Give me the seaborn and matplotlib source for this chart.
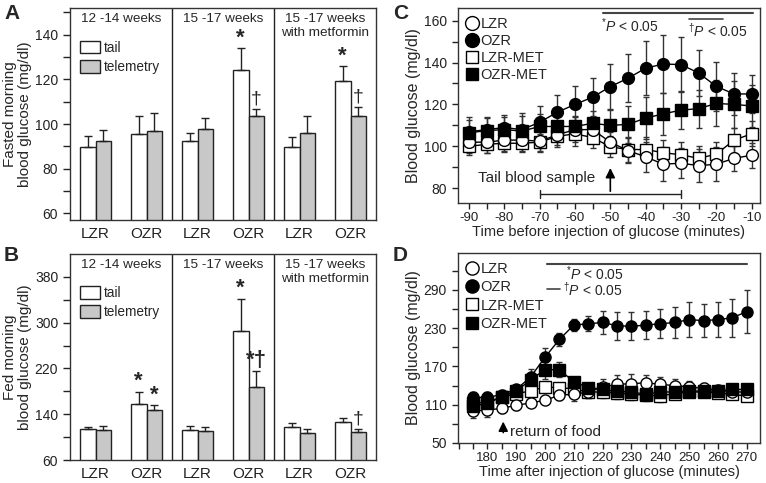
import numpy as np
import pandas as pd
import seaborn as sns
import matplotlib
matplotlib.use("Agg")
import matplotlib.pyplot as plt
from matplotlib.lines import Line2D
from matplotlib.ticker import MultipleLocator
import matplotlib.transforms as mtransforms

# ---- data: panels A / B (bars) ----
groups = ["LZR", "OZR", "LZR", "OZR", "LZR", "OZR"]
sections = ["12 -14 weeks", "15 -17 weeks", "15 -17 weeks\nwith metformin"]

fasted_tail = [89.9, 95.6, 92.6, 124.3, 89.6, 119.1]
fasted_tail_err = [4.8, 8.0, 3.6, 9.6, 4.5, 6.7]
fasted_tel = [92.3, 97.1, 98.0, 103.6, 95.9, 103.4]
fasted_tel_err = [5.1, 8.0, 4.9, 3.0, 7.6, 4.2]

fed_tail = [113.5, 157.7, 113.0, 285.0, 117.0, 127.0]
fed_tail_err = [4.5, 21.5, 6.0, 57.0, 7.0, 5.7]
fed_tel = [112.0, 147.0, 111.0, 187.0, 107.7, 109.0]
fed_tel_err = [7.0, 8.4, 6.0, 28.0, 6.3, 4.5]

# ---- data: panel C ----
time_c = list(range(-90, -5, 5))
c_lzr = [102, 102, 103, 103, 102.5, 105.5, 108, 108, 102, 98, 95, 91.5, 92, 90.8, 91.5, 94.3, 95.8]
c_lzr_err = [5, 5, 5, 5, 5, 5, 6, 6, 5, 6, 7, 8, 7, 8, 8, 6, 6]
c_ozr = [107, 108, 109, 108, 111.5, 116.3, 120, 123.5, 128.5, 132.5, 137.3, 139.3, 139, 135, 128.6, 125, 125]
c_ozr_err = [7, 6, 6, 8, 8, 8, 9, 9, 11, 11.5, 13, 14, 13, 11, 11.5, 10, 9]
c_lzr_met = [100, 101, 101.5, 101.5, 102, 104.8, 106, 104.2, 99.8, 98.5, 98.5, 97, 96, 94.3, 96.3, 103, 106]
c_lzr_met_err = [4, 4, 4, 4, 4, 5, 6, 5, 5, 6, 6, 6, 6, 6, 6, 6, 6]
c_ozr_met = [106.5, 107.5, 108, 107.3, 109.5, 109.5, 109.5, 111, 110, 110.5, 113.5, 115.5, 117.3, 118, 120.5, 120, 119.3]
c_ozr_met_err = [6, 6, 6, 7, 6, 6, 5, 6, 8, 9, 10, 10, 9, 9, 11, 11, 10]

# ---- data: panel D ----
time_d = list(range(175, 275, 5))
d_lzr = [100.5, 101.5, 104.5, 109, 113, 117, 125, 126.5, 130, 138, 142, 143, 144.5, 142, 140, 138, 135.5, 133, 130, 130]
d_lzr_err = [12, 10, 8, 8, 7, 6, 8, 10, 10, 12, 15, 15, 12, 12, 11, 10, 9, 8, 8, 8]
d_ozr = [121.5, 121.5, 126, 134, 153.5, 184.5, 212.5, 235, 237, 239, 234, 233, 235, 237, 239, 243.5, 242, 243.5, 246.5, 256]
d_ozr_err = [8, 8, 7, 7, 12, 15, 10, 10, 12, 18, 22, 22, 22, 23, 24, 27, 26, 28, 30, 34]
d_lzr_met = [112, 114.5, 122, 127.5, 131.5, 138, 136.5, 135, 130, 130, 128.5, 126.5, 125, 124, 127.5, 130, 130, 128.5, 126.5, 123.5]
d_lzr_met_err = [9, 9, 8, 8, 8, 8, 8, 9, 9, 9, 9, 9, 9, 9, 8, 8, 8, 8, 8, 8]
d_ozr_met = [108, 112, 122.5, 131.5, 149, 165, 165, 146, 137, 134, 131, 130, 126.5, 130, 130, 131.5, 131.5, 131.5, 134, 134]
d_ozr_met_err = [8, 8, 7, 7, 10, 14, 12, 8, 7, 7, 7, 6, 6, 6, 6, 6, 6, 6, 6, 6]

sns.set_style("ticks")
plt.rcParams['font.family'] = ['Liberation Sans', 'DejaVu Sans']
plt.rcParams['mathtext.fontset'] = 'custom'
plt.rcParams['mathtext.rm'] = 'Liberation Sans'
plt.rcParams['mathtext.it'] = 'Liberation Sans:italic'
plt.rcParams['axes.unicode_minus'] = False
plt.rcParams['axes.edgecolor'] = '#333333'
plt.rcParams['axes.linewidth'] = 1.0
plt.rcParams['xtick.color'] = '#222222'
plt.rcParams['ytick.color'] = '#222222'

INK = '#222222'
GRAY = '#c8c8c8'

fig = plt.figure(figsize=(7.66, 4.83), dpi=100)
W, H = 766, 483


def rect(x0, y0, x1, y1):
    return [x0 / W, 1 - y1 / H, (x1 - x0) / W, (y1 - y0) / H]


def bar_panel(ax, tail, tail_err, tel, tel_err, ylim, major, minor, ylabel, marks):
    keys = [f"{g}{i}" for i, g in enumerate(groups)]
    df = pd.DataFrame({
        "grp": keys * 2,
        "sample": ["tail"] * 6 + ["telemetry"] * 6,
        "value": tail + tel,
    })
    sns.barplot(data=df, x="grp", y="value", hue="sample", order=keys,
                palette={"tail": "white", "telemetry": GRAY},
                edgecolor=INK, linewidth=1, width=0.61, errorbar=None, ax=ax)
    tops = []
    for cont, errs in zip(ax.containers, [tail_err, tel_err]):
        xs = [b.get_x() + b.get_width() / 2 for b in cont]
        ys = [b.get_height() for b in cont]
        ax.errorbar(xs, ys, yerr=[np.zeros(len(errs)), errs], fmt='none',
                    ecolor=INK, elinewidth=1, capsize=3, capthick=1, zorder=3)
        tops.append([(x, y + e) for x, y, e in zip(xs, ys, errs)])
    for (series, idx), sym in marks.items():
        x, y = tops[series][idx]
        star = sym.startswith('*')
        ax.annotate(sym, (x, y), xytext=(0, 0 if star else 1), textcoords='offset points',
                    ha='center', va='bottom', fontsize=16 if star else 14,
                    fontweight='bold' if star else 'normal')
    ax.set_ylim(*ylim)
    ax.set_xlim(-0.5, 5.5)
    ax.set_yticks(major)
    ax.set_yticks(minor, minor=True)
    ax.tick_params(axis='y', which='both', length=5, width=1, labelsize=10, direction='out')
    ax.tick_params(axis='x', length=0, labelsize=11, pad=5)
    ax.set_xticks(range(6))
    ax.set_xticklabels(groups)
    ax.set_xlabel("")
    ax.set_ylabel(ylabel, fontsize=11, linespacing=1.1, labelpad=2)
    for xv in [1.5, 3.5]:
        ax.axvline(xv, color=INK, lw=1)
    tr = mtransforms.blended_transform_factory(ax.transData, ax.transAxes)
    for i, s in enumerate(sections):
        ax.text(2 * i + 0.5, 0.975, s, transform=tr, ha='center', va='top',
                fontsize=9.7, linespacing=1.2)
    leg = ax.get_legend()
    handles = leg.legend_handles
    labels = [t.get_text() for t in leg.get_texts()]
    ax.legend(handles, labels, loc='upper left', bbox_to_anchor=(0.005, 0.885),
              frameon=False, fontsize=9.8, handlelength=1.5, handleheight=1.05,
              handletextpad=0.25, labelspacing=0.4, borderaxespad=0.2)
    for sp in ax.spines.values():
        sp.set_visible(True)


axA = fig.add_axes(rect(70, 8, 376, 220))
bar_panel(axA, fasted_tail, fasted_tail_err, fasted_tel, fasted_tel_err,
          (57, 152), [60, 80, 100, 120, 140], [70, 90, 110, 130, 150],
          "Fasted morning\nblood glucose (mg/dl)",
          {(0, 3): "*", (1, 3): "†", (0, 5): "*", (1, 5): "†"})

axB = fig.add_axes(rect(70, 254, 376, 460))
bar_panel(axB, fed_tail, fed_tail_err, fed_tel, fed_tel_err,
          (60, 420), [60, 140, 220, 300, 380], [100, 180, 260, 340],
          "Fed morning\nblood glucose (mg/dl)",
          {(0, 1): "*", (1, 1): "*", (0, 3): "*", (1, 3): "*†", (1, 5): "†"})


def line_panel(ax, x, series, ms, capsize):
    for y, err, marker, fill in series:
        ax.errorbar(x, y, yerr=err, fmt='none', ecolor='#333333', elinewidth=1,
                    capsize=capsize, capthick=1, zorder=1)
    for y, err, marker, fill in series:
        sns.lineplot(x=x, y=y, color='black', lw=1, marker=marker, markersize=ms,
                     markerfacecolor=fill, markeredgecolor='black', markeredgewidth=1,
                     ax=ax, zorder=2)
    handles = [Line2D([], [], ls='none', marker=m, ms=(ms + 1.5) if m == 'o' else ms,
                      mfc=f, mec='black', mew=1)
               for _, _, m, f in series]
    return handles


series_c = [
    (c_lzr_met, c_lzr_met_err, 's', 'white'),
    (c_lzr, c_lzr_err, 'o', 'white'),
    (c_ozr_met, c_ozr_met_err, 's', 'black'),
    (c_ozr, c_ozr_err, 'o', 'black'),
]
labels_lines = ["LZR", "OZR", "LZR-MET", "OZR-MET"]

axC = fig.add_axes(rect(458, 8, 760, 203))
h = line_panel(axC, time_c, series_c, 8.5, 2.5)
axC.legend([h[1], h[3], h[0], h[2]], labels_lines, loc='upper left',
           bbox_to_anchor=(-0.005, 1.0), frameon=False, fontsize=10.5,
           handlelength=0.9, handletextpad=0.15, labelspacing=0.22, borderaxespad=0.2)
axC.set_xlim(-93.1, -7.65)
axC.set_ylim(73, 166)
axC.xaxis.set_major_locator(MultipleLocator(10))
axC.xaxis.set_minor_locator(MultipleLocator(5))
axC.yaxis.set_major_locator(MultipleLocator(20))
axC.yaxis.set_minor_locator(MultipleLocator(10))
axC.tick_params(which='both', length=4.5, width=1, direction='out')
axC.tick_params(axis='x', labelsize=9.5, pad=2)
axC.tick_params(axis='y', labelsize=10)
axC.set_xlabel("Time before injection of glucose (minutes)", fontsize=10.5, labelpad=1)
axC.set_ylabel("Blood glucose (mg/dl)", fontsize=11.5, labelpad=2)
axC.plot([-52.1, -9.6], [163.5, 163.5], color='#444444', lw=1.5)
axC.plot([-27.7, -18.1], [160.8, 160.8], color='#444444', lw=1.2)
axC.text(-52.6, 157.6, r"$^{*}P$ < 0.05", fontsize=10, ha='left', va='center')
axC.text(-28.0, 155.2, r"$^{\dagger}P$ < 0.05", fontsize=10, ha='left', va='center')
axC.text(-70.9, 84.8, "Tail blood sample", fontsize=11, ha='center', va='center')
axC.plot([-70, -30], [77.3, 77.3], color=INK, lw=1)
axC.plot([-70, -70], [75.3, 79.3], color=INK, lw=1)
axC.plot([-30, -30], [75.3, 79.3], color=INK, lw=1)
axC.annotate('', xy=(-50, 91), xytext=(-50, 77.3),
             arrowprops=dict(arrowstyle='-|>', color='black', lw=1.2, mutation_scale=14))

series_d = [
    (d_lzr_met, d_lzr_met_err, 's', 'white'),
    (d_lzr, d_lzr_err, 'o', 'white'),
    (d_ozr_met, d_ozr_met_err, 's', 'black'),
    (d_ozr, d_ozr_err, 'o', 'black'),
]
axD = fig.add_axes(rect(458, 253, 760, 443))
h = line_panel(axD, time_d, series_d, 8, 2.5)
axD.legend([h[1], h[3], h[0], h[2]], labels_lines, loc='upper left',
           bbox_to_anchor=(-0.005, 1.0), frameon=False, fontsize=10.5,
           handlelength=0.9, handletextpad=0.15, labelspacing=0.3, borderaxespad=0.2)
axD.set_xlim(169.8, 274.6)
axD.set_ylim(50, 348)
axD.set_xticks(range(180, 271, 10))
axD.xaxis.set_minor_locator(MultipleLocator(5))
axD.set_yticks([50, 110, 170, 230, 290])
axD.set_yticks([80, 140, 200, 260, 320], minor=True)
axD.tick_params(which='both', length=4.5, width=1, direction='out')
axD.tick_params(axis='x', labelsize=9.5, pad=2)
axD.tick_params(axis='y', labelsize=10)
axD.set_xlabel("Time after injection of glucose (minutes)", fontsize=10.5, labelpad=1)
axD.set_ylabel("Blood glucose (mg/dl)", fontsize=11.5, labelpad=2)
axD.plot([200.6, 270], [330.7, 330.7], color='#444444', lw=1.5)
axD.plot([200.6, 205.2], [291, 291], color='#444444', lw=1.2)
axD.text(207.3, 316, r"$^{*}P$ < 0.05", fontsize=10, ha='left', va='center')
axD.text(206.4, 290, r"$^{\dagger}P$ < 0.05", fontsize=10, ha='left', va='center')
axD.annotate('', xy=(185.5, 88), xytext=(185.5, 62),
             arrowprops=dict(arrowstyle='-|>', color='black', lw=1.2, mutation_scale=14))
axD.text(188, 66.7, "return of food", fontsize=11, ha='left', va='center')

for ax in [axC, axD]:
    for sp in ax.spines.values():
        sp.set_visible(True)

for lbl, (x, y) in {"A": (4, 4), "B": (4, 246), "C": (393, 4), "D": (393, 246)}.items():
    fig.text(x / W, 1 - y / H, lbl, fontsize=15, fontweight='bold', ha='left', va='top')

fig.savefig("out.png", dpi=100)
